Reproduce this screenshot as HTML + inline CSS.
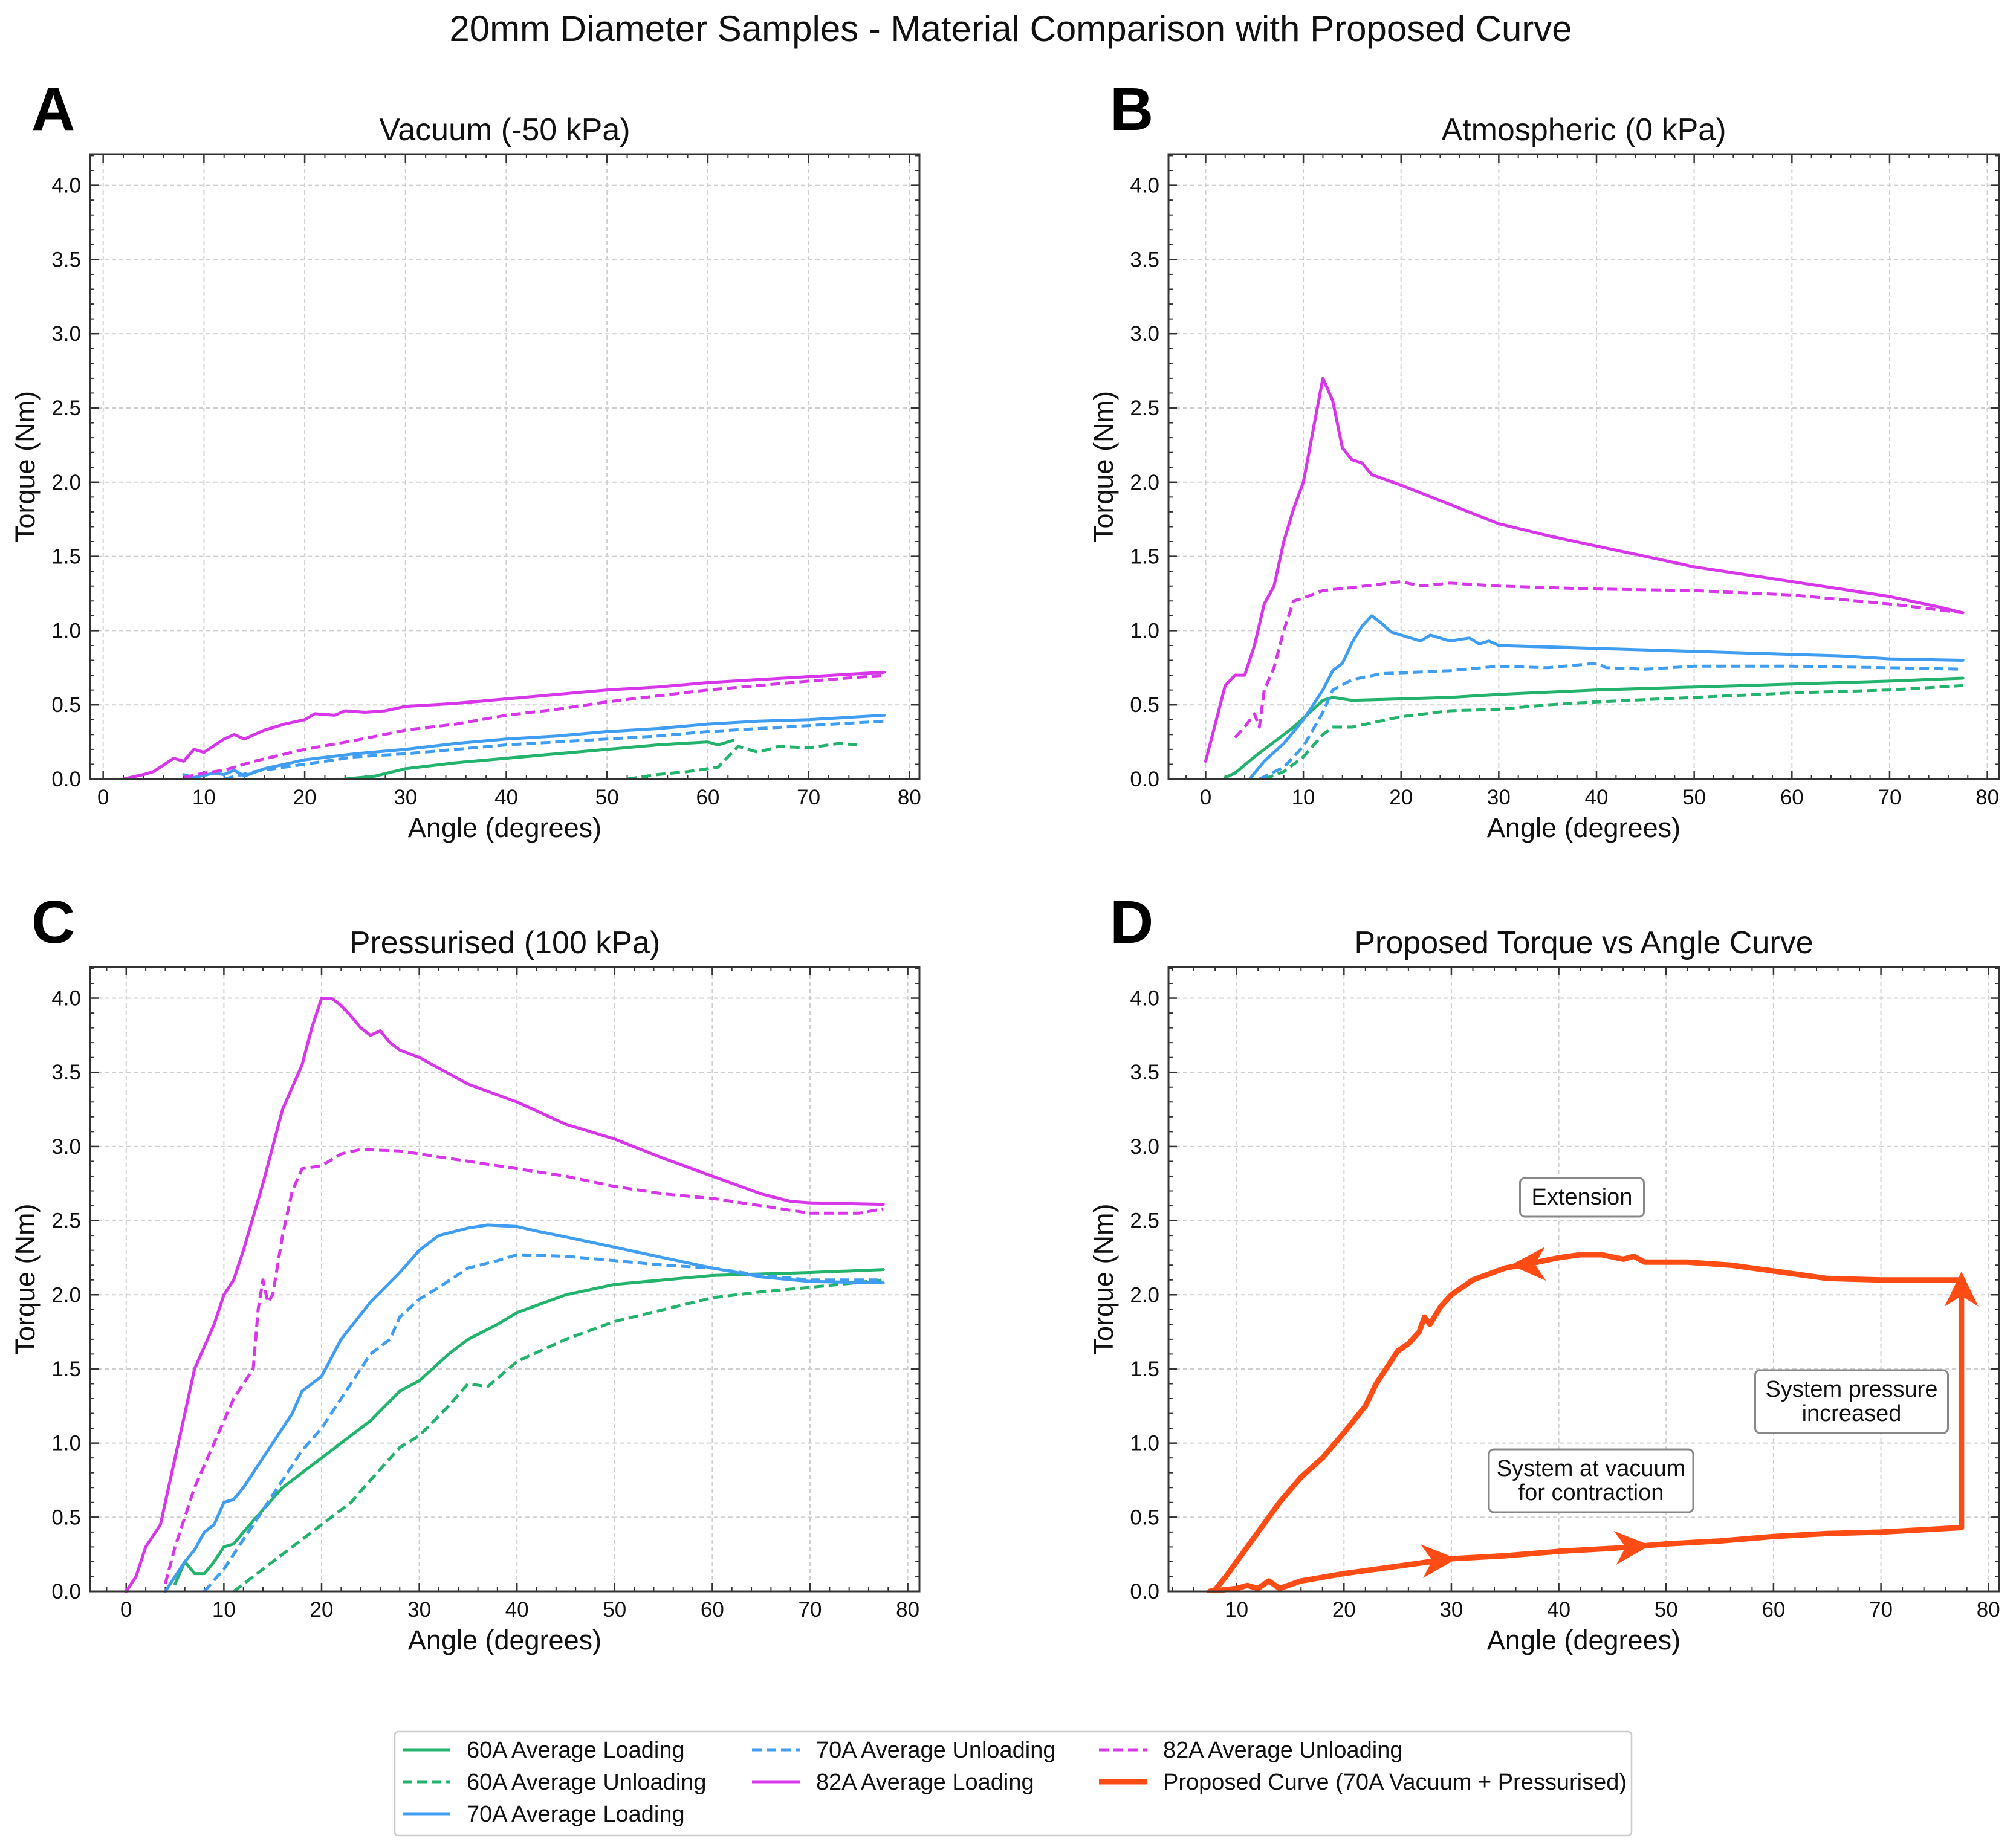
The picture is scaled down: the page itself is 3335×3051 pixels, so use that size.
<!DOCTYPE html>
<html><head><meta charset="utf-8">
<style>
html,body{margin:0;padding:0;background:#fff;}
svg{display:block;font-family:"Liberation Sans",sans-serif;}
</style></head>
<body>
<svg id="fig" width="3335" height="3051" viewBox="0 0 3335 3051" xmlns="http://www.w3.org/2000/svg">
<rect width="3335" height="3051" fill="#fff"/>
<text x="1672" y="68" font-size="60" text-anchor="middle" fill="#111">20mm Diameter Samples - Material Comparison with Proposed Curve</text>
</svg>
<script>
// ---- data (angle in degrees, torque in Nm) ----
const a82L_x=[2,4,5,7,8,9,10,12,13,14,16,18,20,21,23,24,26,28,30,35,40,45,50,55,60,65,70,77.5];
const a82L_y=[0,0.03,0.05,0.14,0.12,0.2,0.18,0.27,0.3,0.27,0.33,0.37,0.4,0.44,0.43,0.46,0.45,0.46,0.49,0.51,0.54,0.57,0.6,0.62,0.65,0.67,0.69,0.72];
const a82U_x=[8,10,12,15,20,25,30,35,40,45,50,55,60,65,70,77.5];
const a82U_y=[0.01,0.04,0.06,0.12,0.2,0.26,0.33,0.37,0.43,0.47,0.52,0.56,0.6,0.63,0.66,0.7];
const a70L_x=[8,9,11,12,13,14,16,20,25,30,35,40,45,50,55,60,65,70,77.5];
const a70L_y=[0.03,0.01,0.04,0.03,0.06,0.02,0.07,0.13,0.17,0.2,0.24,0.27,0.29,0.32,0.34,0.37,0.39,0.4,0.43];
const a70U_x=[12,15,20,25,30,35,40,45,50,55,60,65,70,77.5];
const a70U_y=[0,0.05,0.1,0.15,0.17,0.2,0.23,0.25,0.27,0.29,0.32,0.34,0.36,0.39];
const a60L_x=[24,27,30,35,40,45,50,55,60,61,62.5];
const a60L_y=[0,0.02,0.07,0.11,0.14,0.17,0.2,0.23,0.25,0.23,0.26];
const a60U_x=[52,55,58,61,63,65,67,70,73,75];
const a60U_y=[0,0.03,0.05,0.08,0.22,0.18,0.22,0.21,0.24,0.23];

const b82L_x=[0,2,3,4,5,6,7,8,9,10,11,12,13,14,15,16,17,20,25,30,35,40,45,50,55,60,65,70,75,77.5];
const b82L_y=[0.12,0.63,0.7,0.7,0.9,1.18,1.3,1.6,1.82,2.0,2.35,2.7,2.55,2.23,2.15,2.13,2.05,1.98,1.85,1.72,1.64,1.57,1.5,1.43,1.38,1.33,1.28,1.23,1.16,1.12];
const b82U_x=[3,4,5,5.5,6,7,8,9,10,12,15,20,22,25,30,35,40,50,60,70,77.5];
const b82U_y=[0.28,0.35,0.44,0.35,0.6,0.75,1.0,1.2,1.22,1.27,1.29,1.33,1.3,1.32,1.3,1.29,1.28,1.27,1.24,1.18,1.12];
const b70L_x=[4.5,6,8,10,12,13,14,15,16,17,18,19,22,23,25,27,28,29,30,35,40,45,50,55,60,65,70,77.5];
const b70L_y=[0,0.12,0.24,0.4,0.6,0.73,0.78,0.92,1.03,1.1,1.05,0.99,0.93,0.97,0.93,0.95,0.91,0.93,0.9,0.89,0.88,0.87,0.86,0.85,0.84,0.83,0.81,0.8];
const b70U_x=[5.5,8,10,12,13,15,18,25,30,35,40,41,45,50,60,70,77.5];
const b70U_y=[0,0.08,0.22,0.45,0.6,0.67,0.71,0.73,0.76,0.75,0.78,0.75,0.74,0.76,0.76,0.75,0.74];
const b60L_x=[2,3,5,7,9,11,12,13,15,20,25,30,40,50,60,70,77.5];
const b60L_y=[0.01,0.04,0.15,0.25,0.35,0.47,0.53,0.55,0.53,0.54,0.55,0.57,0.6,0.62,0.64,0.66,0.68];
const b60U_x=[6,8,10,12,13,15,20,25,30,35,40,50,60,70,77.5];
const b60U_y=[0,0.05,0.15,0.3,0.35,0.35,0.42,0.46,0.47,0.5,0.52,0.55,0.58,0.6,0.63];

const c82L_x=[0,1,2,3,3.5,4,5,6,7,9,10,11,12,14,15,16,18,19,20,21,22,23,24,25,26,27,28,30,35,40,45,50,55,60,65,68,70,77.5];
const c82L_y=[0,0.1,0.3,0.4,0.45,0.6,0.9,1.2,1.5,1.8,2.0,2.1,2.3,2.75,3.0,3.25,3.55,3.8,4.0,4.0,3.95,3.88,3.8,3.75,3.78,3.7,3.65,3.6,3.42,3.3,3.15,3.05,2.92,2.8,2.68,2.63,2.62,2.61];
const c82U_x=[4,5,7,9,11,13,13.5,14,14.5,15,16,17,18,20,22,24,28,30,35,40,45,50,55,60,65,70,75,77.5];
const c82U_y=[0.05,0.3,0.7,1.0,1.3,1.5,1.9,2.1,1.95,2.0,2.4,2.7,2.85,2.87,2.95,2.98,2.97,2.95,2.9,2.85,2.8,2.73,2.68,2.65,2.6,2.55,2.55,2.58];
const c70L_x=[4,5,6,7,8,9,10,11,12,13,15,17,18,20,22,25,28,30,32,35,37,40,42,45,50,55,60,65,70,77.5];
const c70L_y=[0,0.1,0.2,0.28,0.4,0.45,0.6,0.62,0.7,0.8,1.0,1.2,1.35,1.45,1.7,1.95,2.15,2.3,2.4,2.45,2.47,2.46,2.43,2.39,2.32,2.25,2.18,2.12,2.09,2.08];
const c70U_x=[8,10,12,15,18,20,22,25,27,28,30,32,35,38,40,45,50,55,60,65,70,77.5];
const c70U_y=[0,0.15,0.35,0.65,0.95,1.1,1.3,1.6,1.7,1.85,1.97,2.05,2.18,2.23,2.27,2.26,2.23,2.2,2.18,2.13,2.1,2.1];
const c60L_x=[5,6,7,8,9,10,11,12,14,16,18,20,22,25,28,30,33,35,38,40,45,50,55,60,65,70,77.5];
const c60L_y=[0.05,0.2,0.12,0.12,0.2,0.3,0.32,0.4,0.55,0.7,0.8,0.9,1.0,1.15,1.35,1.42,1.6,1.7,1.8,1.88,2.0,2.07,2.1,2.13,2.14,2.15,2.17];
const c60U_x=[11,13,15,20,23,25,28,30,33,35,37,40,45,50,55,60,65,70,77.5];
const c60U_y=[0,0.1,0.2,0.45,0.6,0.75,0.97,1.05,1.25,1.4,1.38,1.55,1.7,1.82,1.9,1.98,2.02,2.05,2.1];

const dExt_x=[7.5,8,9,10,12,14,16,18,20,22,23,25,26,27,27.5,28,29,30,32,35,38,40,42,44,46,47,48,52,56,60,65,70,77.5];
const dExt_y=[0,0.01,0.1,0.2,0.4,0.6,0.77,0.9,1.07,1.25,1.4,1.62,1.67,1.75,1.85,1.8,1.92,2.0,2.1,2.18,2.22,2.25,2.27,2.27,2.24,2.26,2.22,2.22,2.2,2.16,2.11,2.1,2.1];
const dCon_x=[7.5,10,11,12,13,14,16,20,25,30,35,40,45,50,55,60,65,70,77.5];
const dCon_y=[0,0.02,0.04,0.02,0.07,0.02,0.07,0.12,0.17,0.22,0.24,0.27,0.29,0.32,0.34,0.37,0.39,0.4,0.43];

const yTicks=[0,0.5,1.0,1.5,2.0,2.5,3.0,3.5,4.0];
const xTicksFull=[0,10,20,30,40,50,60,70,80];
const xTicksD=[10,20,30,40,50,60,70,80];

const GREEN="#22b36c",BLUE="#3f9df2",MAG="#d836ea",ORANGE="#ff4b14";
const NS="http://www.w3.org/2000/svg";
const svg=document.getElementById('fig');
function mk(tag,attrs,parent){const e=document.createElementNS(NS,tag);for(const k in attrs)e.setAttribute(k,attrs[k]);(parent||svg).appendChild(e);return e;}

function panel(cfg){
  const g=mk('g',{});
  
  
  const {L,R,T,B,x0,x1}=cfg;const y0=0,y1=4.21;
  const sx=v=>L+(v-x0)/(x1-x0)*(R-L);
  const sy=v=>B-(v-y0)/(y1-y0)*(B-T);
  cfg.xt.forEach(v=>{const gl=mk('line',{x1:sx(v),x2:sx(v),y1:T,y2:B,stroke:'#cfcfcf','stroke-width':2,'stroke-dasharray':'7,5'},g);});
  yTicks.forEach(v=>{const gl=mk('line',{x1:L,x2:R,y1:sy(v),y2:sy(v),stroke:'#cfcfcf','stroke-width':2,'stroke-dasharray':'7,5'},g);});
  for(let v=Math.ceil(x0/2)*2;v<=x1;v+=2){mk('line',{x1:sx(v),x2:sx(v),y1:B,y2:B-7,stroke:'#333','stroke-width':2},g);mk('line',{x1:sx(v),x2:sx(v),y1:T,y2:T+7,stroke:'#333','stroke-width':2},g);}
  for(let i=0;i<=42;i++){const v=i/10;mk('line',{x1:L,x2:L+7,y1:sy(v),y2:sy(v),stroke:'#333','stroke-width':2},g);mk('line',{x1:R,x2:R-7,y1:sy(v),y2:sy(v),stroke:'#333','stroke-width':2},g);}
  cfg.xt.forEach(v=>{mk('line',{x1:sx(v),x2:sx(v),y1:B,y2:B-14,stroke:'#333','stroke-width':2.5},g);mk('line',{x1:sx(v),x2:sx(v),y1:T,y2:T+14,stroke:'#333','stroke-width':2.5},g);
    const t=mk('text',{x:sx(v),y:B+42,'font-size':35,'text-anchor':'middle',fill:'#111'},g);t.textContent=String(v);
    });
  yTicks.forEach(v=>{mk('line',{x1:L,x2:L+14,y1:sy(v),y2:sy(v),stroke:'#333','stroke-width':2.5},g);mk('line',{x1:R,x2:R-14,y1:sy(v),y2:sy(v),stroke:'#333','stroke-width':2.5},g);
    const t=mk('text',{x:L-15,y:sy(v)+12,'font-size':35,'text-anchor':'end',fill:'#111'},g);t.textContent=v.toFixed(1);
    });
  const cid='clip-'+cfg.name;const cp=mk('clipPath',{id:cid},g);mk('rect',{x:L,y:T-2,width:R-L,height:B-T+4},cp);
  const sg=mk('g',{'clip-path':'url(#'+cid+')'},g);
  cfg.series.forEach(s=>{
    const d=s.x.map((v,i)=>(i?'L':'M')+sx(v).toFixed(1)+','+sy(s.y[i]).toFixed(1)).join(' ');
    const p=mk('path',{d:d,fill:'none',stroke:s.c,'stroke-width':s.w||5,'stroke-linejoin':'round','stroke-linecap':s.dash?'butt':'round'},sg);
    if(s.dash)p.setAttribute('stroke-dasharray','16,8');
    
    
  });
  if(cfg.extra)cfg.extra(g,sx,sy);
  const fr=mk('rect',{x:L,y:T,width:R-L,height:B-T,fill:'none',stroke:'#333','stroke-width':3},g);
  
  const tt=mk('text',{x:(L+R)/2,y:T-23,'font-size':52,'text-anchor':'middle',fill:'#111'},g);tt.textContent=cfg.title;
  
  const lt=mk('text',{x:L-97,y:T-40,'font-size':100,'font-weight':'bold',fill:'#000'},g);lt.textContent=cfg.letter;
  
  const xl=mk('text',{x:(L+R)/2,y:B+96,'font-size':45,'text-anchor':'middle',fill:'#111'},g);xl.textContent='Angle (degrees)';
  
  const yc=(T+B)/2;const yl=mk('text',{x:L-92,y:yc,'font-size':45,'text-anchor':'middle',fill:'#111',transform:'rotate(-90 '+(L-92)+' '+yc+')'},g);yl.textContent='Torque (Nm)';
  
}

function arrowHead(g,x,y,ang,name){
  const L=58,W=28;const r=ang*Math.PI/180;
  const bx=x-L*Math.cos(r),by=y-L*Math.sin(r);
  const px=-Math.sin(r)*W,py=Math.cos(r)*W;
  const p=mk('polygon',{points:`${x},${y} ${bx+px},${by+py} ${bx+L*0.3*Math.cos(r)},${by+L*0.3*Math.sin(r)} ${bx-px},${by-py}`,fill:ORANGE},g);
  
}
function box(g,cx,cy,lines,name){
  const w=Math.max(...lines.map(l=>l.length))*19+34,h=lines.length*40+24;
  const r=mk('rect',{x:cx-w/2,y:cy-h/2,width:w,height:h,rx:8,fill:'#fff',stroke:'#888','stroke-width':3},g);
  
  lines.forEach((l,i)=>{const t=mk('text',{x:cx,y:cy-h/2+12+32+i*40,'font-size':38,'text-anchor':'middle',fill:'#111'},g);t.textContent=l;
    });
}

panel({name:'panel-a-vacuum',letter:'A',title:'Vacuum (-50 kPa)',L:149,R:1521,T:255,B:1289,x0:-1.3,x1:81.0,xt:xTicksFull,series:[
 {x:a60L_x,y:a60L_y,c:GREEN,n:'60a-loading-line'},{x:a60U_x,y:a60U_y,c:GREEN,dash:1,n:'60a-unloading-line'},
 {x:a70L_x,y:a70L_y,c:BLUE,n:'70a-loading-line'},{x:a70U_x,y:a70U_y,c:BLUE,dash:1,n:'70a-unloading-line'},
 {x:a82L_x,y:a82L_y,c:MAG,n:'82a-loading-line'},{x:a82U_x,y:a82U_y,c:MAG,dash:1,n:'82a-unloading-line'}]});
panel({name:'panel-b-atmospheric',letter:'B',title:'Atmospheric (0 kPa)',L:1933,R:3307,T:255,B:1289,x0:-3.8,x1:81.2,xt:xTicksFull,series:[
 {x:b60L_x,y:b60L_y,c:GREEN,n:'60a-loading-line'},{x:b60U_x,y:b60U_y,c:GREEN,dash:1,n:'60a-unloading-line'},
 {x:b70L_x,y:b70L_y,c:BLUE,n:'70a-loading-line'},{x:b70U_x,y:b70U_y,c:BLUE,dash:1,n:'70a-unloading-line'},
 {x:b82L_x,y:b82L_y,c:MAG,n:'82a-loading-line'},{x:b82U_x,y:b82U_y,c:MAG,dash:1,n:'82a-unloading-line'}]});
panel({name:'panel-c-pressurised',letter:'C',title:'Pressurised (100 kPa)',L:149,R:1521,T:1600,B:2633,x0:-3.7,x1:81.2,xt:xTicksFull,series:[
 {x:c60L_x,y:c60L_y,c:GREEN,n:'60a-loading-line'},{x:c60U_x,y:c60U_y,c:GREEN,dash:1,n:'60a-unloading-line'},
 {x:c70L_x,y:c70L_y,c:BLUE,n:'70a-loading-line'},{x:c70U_x,y:c70U_y,c:BLUE,dash:1,n:'70a-unloading-line'},
 {x:c82L_x,y:c82L_y,c:MAG,n:'82a-loading-line'},{x:c82U_x,y:c82U_y,c:MAG,dash:1,n:'82a-unloading-line'}]});
panel({name:'panel-d-proposed',letter:'D',title:'Proposed Torque vs Angle Curve',L:1933,R:3307,T:1600,B:2633,x0:3.66,x1:81.0,xt:xTicksD,series:[
 {x:dExt_x,y:dExt_y,c:ORANGE,w:9,n:'proposed-extension-line'},{x:dCon_x,y:dCon_y,c:ORANGE,w:9,n:'proposed-contraction-line'},
 {x:[77.5,77.5],y:[0.43,2.1],c:ORANGE,w:9,n:'proposed-pressure-step-line'}],
 extra:(g,sx,sy)=>{
   arrowHead(g,sx(77.5),sy(2.1)-14,-90,'pressure-arrow');
   arrowHead(g,sx(30.5),sy(0.22),-4,'contraction-arrow-1');
   arrowHead(g,sx(48.5),sy(0.31),-4,'contraction-arrow-2');
   arrowHead(g,sx(35.5),sy(2.2),178,'extension-arrow');
   box(g,2617,1981,['Extension'],'extension-annotation');
   box(g,3063,2319,['System pressure','increased'],'pressure-annotation');
   box(g,2632,2450,['System at vacuum','for contraction'],'vacuum-annotation');
 }});

const lg=mk('g',{});


mk('rect',{x:653,y:2865,width:2046,height:172,rx:6,fill:'#fff',stroke:'#ccc','stroke-width':2.5},lg);
const legItems=[['60A Average Loading',GREEN,0,666,2895],['60A Average Unloading',GREEN,1,666,2948],['70A Average Loading',BLUE,0,666,3001],
 ['70A Average Unloading',BLUE,1,1244,2895],['82A Average Loading',MAG,0,1244,2948],
 ['82A Average Unloading',MAG,1,1818,2895],['Proposed Curve (70A Vacuum + Pressurised)',ORANGE,2,1818,2948]];
legItems.forEach(it=>{
  const e=mk('g',{},lg);
  
  
  const ln=mk('line',{x1:it[3],x2:it[3]+79,y1:it[4],y2:it[4],stroke:it[1],'stroke-width':it[2]==2?9:5},e);
  if(it[2]==1)ln.setAttribute('stroke-dasharray','16,8');
  const t=mk('text',{x:it[3]+106,y:it[4]+13,'font-size':38,fill:'#111'},e);t.textContent=it[0];
});
</script>
</body></html>
